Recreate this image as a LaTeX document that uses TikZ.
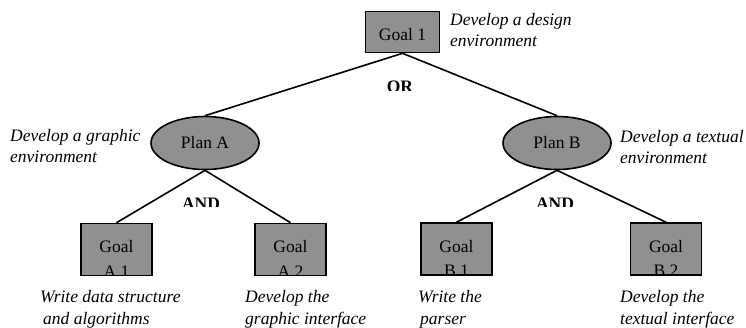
\documentclass[tikz,border=0pt]{standalone}
\usepackage{fontspec}
\setmainfont{Liberation Serif}
\usetikzlibrary{shapes.geometric}
\definecolor{boxgray}{RGB}{144,144,144}
\newcommand{\mainsize}{\fontsize{17.5}{22}\selectfont}
\newcommand{\uppersize}{\fontsize{17.5}{21}\selectfont}
\tikzset{
  every node/.style={font=\mainsize},
  link/.style={line width=1.6pt},
  goalbox/.style n args={2}{draw, line width=1.6pt, fill=boxgray, inner sep=0pt,
    minimum width=71pt, minimum height=52pt,
    path picture={
      \node[anchor=base] at ([yshift=-29pt]path picture bounding box.north) {#1};
      \node[anchor=base] at ([yshift=-53.5pt]path picture bounding box.north) {#2};
    }},
  topbox/.style={draw, line width=1.6pt, fill=boxgray, inner sep=0pt,
    minimum width=74pt, minimum height=41pt},
  plan/.style={ellipse, draw, line width=1.6pt, fill=boxgray, inner sep=0pt,
    minimum width=108pt, minimum height=53pt},
  note/.style={align=left, anchor=north west, inner sep=0pt, font=\mainsize\itshape},
  upnote/.style={note, font=\uppersize\itshape},
  gate/.style={anchor=base, inner sep=0pt, font=\mainsize\bfseries},
}
\begin{document}
\begin{tikzpicture}[x=1pt, y=-1pt]
  \useasboundingbox (0,0) rectangle (746,327);

  % root goal
  \node[topbox] (g1) at (402.5,32) {};
  \node[anchor=base] (g1t) at (402.5,40.5) {Goal 1};
  \node[upnote] (g1n) at (450,13) {Develop a design\\environment};

  % plans
  \node[plan] (pa) at (205,143) {Plan A};
  \node[plan] (pb) at (557,143) {Plan B};
  \node[upnote] (pan) at (10,129) {Develop a graphic\\environment};
  \node[upnote] (pbn) at (620,130) {Develop a textual\\environment};

  % leaf goals
  \node[goalbox={Goal}{A 1}] (a1) at (116.5,249.5) {};
  \node[goalbox={Goal}{A 2}] (a2) at (290.5,249.5) {};
  \node[goalbox={Goal}{B 1}] (b1) at (456.5,249) {};
  \node[goalbox={Goal}{B 2}] (b2) at (666,249) {};

  \node[note] (a1n) at (40,290) {Write data structure\\\hspace*{3pt}and algorithms};
  \node[note] (a2n) at (245,290) {Develop the\\graphic interface};
  \node[note] (b1n) at (418,290) {Write the\\\hspace*{2pt}parser};
  \node[note] (b2n) at (620,290) {Develop the\\textual interface};

  % decomposition links
  \draw[link] (g1.south) -- (pa.north);
  \draw[link] (g1.south) -- (pb.north);
  \draw[link] (pa.south) -- (a1.north);
  \draw[link] (pa.south) -- (a2.north);
  \draw[link] (pb.south) -- (b1.north);
  \draw[link] (pb.south) -- (b2.north);

  % connective labels, cut at their lower edge
  \begin{scope}
    \clip (370,70) rectangle (430,90);
    \node[gate] (or) at (400,92) {OR};
  \end{scope}
  \begin{scope}
    \clip (170,185) rectangle (235,206);
    \node[gate] (anda) at (201,209) {AND};
  \end{scope}
  \begin{scope}
    \clip (525,185) rectangle (590,206);
    \node[gate] (andb) at (555,209) {AND};
  \end{scope}
\end{tikzpicture}
\end{document}
